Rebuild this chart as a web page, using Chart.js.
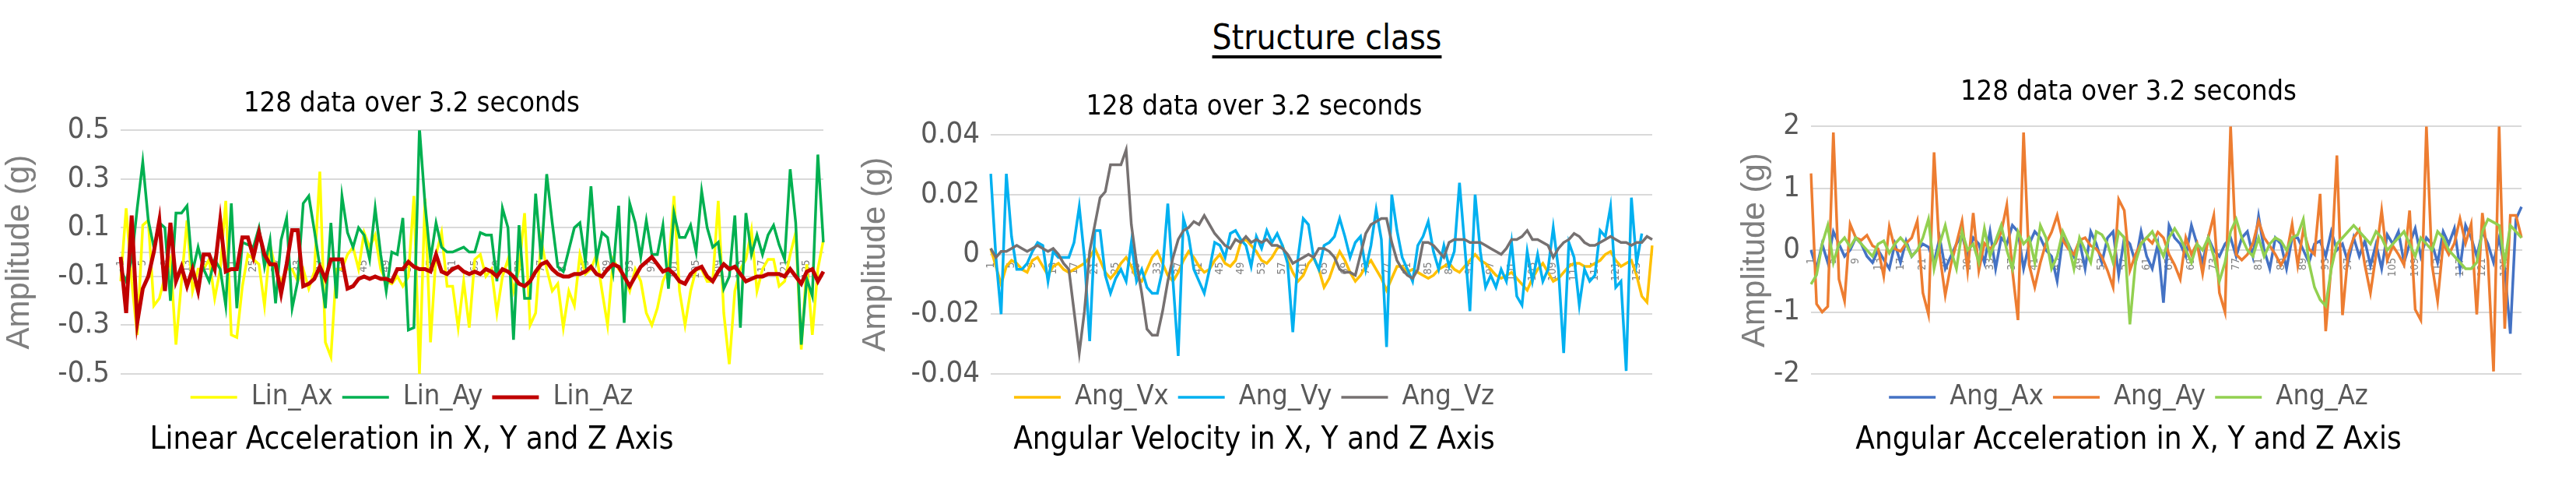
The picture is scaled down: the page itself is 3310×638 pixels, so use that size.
<!DOCTYPE html>
<html>
<head>
<meta charset="utf-8">
<script src="https://cdn.jsdelivr.net/npm/chart.js@4.4.1/dist/chart.umd.min.js"></script>
<style>
  html, body { margin: 0; padding: 0; background: #fff; width: 3310px; height: 638px; overflow: hidden; }
  .panel { position: absolute; top: 0; height: 638px; }
  #mainTitle {
    position: absolute; left: 1540px; width: 330px; top: 22px; text-align: center;
    font-family: 'Liberation Sans Narrow', 'DejaVu Sans Condensed', sans-serif; font-size: 44px;
    color: #000; text-decoration: underline; text-decoration-thickness: 4px; text-underline-offset: 8px;
  }
</style>
</head>
<body>
<div id="mainTitle">Structure class</div>
<div class="panel" style="left:0px;width:1210px"><canvas id="c1"></canvas></div>
<div class="panel" style="left:1100px;width:1210px"><canvas id="c2"></canvas></div>
<div class="panel" style="left:2230px;width:1112px"><canvas id="c3"></canvas></div>
<script>
// sample index labels 1..128
const SAMPLES = Array.from({ length: 128 }, (_, i) => String(i + 1));

// --- Linear acceleration (g) ---
const linAx = [-0.12,0.18,-0.12,-0.34,0.11,0.13,-0.22,-0.19,-0.1,-0.03,-0.38,-0.12,0.13,-0.16,-0.07,-0.07,-0.03,-0.19,-0.07,0.21,-0.34,-0.35,-0.14,-0.01,-0.03,-0.05,-0.22,0.03,-0.07,-0.12,-0.07,-0.07,-0.12,-0.07,-0.15,-0.08,0.33,-0.37,-0.43,-0.07,-0.07,-0.01,0.02,-0.07,0.08,0.02,0.07,-0.07,-0.12,-0.13,-0.1,-0.14,-0.1,0.23,-0.5,0.22,-0.37,-0.01,0.08,-0.14,-0.14,-0.31,-0.12,
  -0.31,-0.03,-0.01,-0.1,-0.07,-0.25,-0.1,-0.03,-0.16,-0.07,0.16,-0.3,-0.25,0.05,-0.07,-0.16,-0.13,-0.31,-0.16,-0.22,-0.01,-0.09,-0.07,-0.01,-0.16,-0.3,-0.03,-0.07,-0.1,-0.16,-0.07,-0.12,-0.25,-0.3,-0.23,-0.12,-0.07,0.23,-0.16,-0.3,-0.16,-0.07,-0.07,-0.12,-0.12,0.21,-0.25,-0.46,-0.16,-0.07,-0.03,0.09,-0.16,-0.07,-0.03,-0.03,-0.14,-0.12,-0.01,0.08,-0.4,-0.05,-0.34,-0.07,0.05];
const linAy = [-0.07,-0.12,-0.03,0.18,0.37,0.13,0.02,0.12,0.1,-0.2,0.16,0.16,0.19,-0.08,0.02,-0.07,-0.12,-0.03,-0.07,-0.22,0.2,-0.23,0.04,0.03,0.02,0.1,-0.06,0.05,-0.21,0.05,0.14,-0.23,-0.12,0.2,0.23,0.09,-0.06,-0.23,0.12,-0.19,0.23,0.08,0.02,0.1,0.07,-0.03,0.18,-0.01,-0.16,0,-0.01,0.14,-0.32,-0.31,0.51,0.2,-0.03,0.12,0.02,0,0,0.01,0.02,
  0,0,0.08,0.07,0.07,-0.12,0.18,0.1,-0.36,0.11,-0.19,-0.19,0.24,-0.03,0.32,0.12,-0.06,-0.08,0.01,0.1,0.12,-0.04,0.27,-0.03,0.08,0.06,-0.08,0.19,-0.29,0.2,0.12,-0.02,0.13,-0.01,-0.01,0.11,-0.15,0.16,0.06,0.06,0.11,0,0.25,0.1,0.02,0.04,-0.15,-0.1,0.15,-0.31,0.16,-0.01,0.07,-0.01,0.07,0.11,0.03,-0.03,0.34,0.12,-0.38,-0.11,-0.18,0.4,0.04];
const linAz = [-0.02,-0.25,0.15,-0.29,-0.15,-0.1,0.0,0.13,-0.16,0.12,-0.12,-0.06,-0.14,-0.07,-0.16,-0.01,-0.01,-0.07,0.13,-0.08,-0.07,-0.07,0.06,0.06,-0.02,0.08,-0.01,-0.05,-0.05,-0.17,-0.05,0.09,0.09,-0.14,-0.13,-0.11,-0.06,-0.11,-0.03,-0.03,-0.03,-0.15,-0.14,-0.11,-0.1,-0.11,-0.1,-0.11,-0.11,-0.12,-0.07,-0.07,-0.04,-0.06,-0.07,-0.07,-0.08,-0.01,-0.08,-0.09,-0.07,-0.06,-0.08,-0.09,
  -0.08,-0.09,-0.07,-0.08,-0.1,-0.07,-0.08,-0.1,-0.13,-0.14,-0.12,-0.08,-0.05,-0.04,-0.07,-0.09,-0.1,-0.1,-0.09,-0.09,-0.08,-0.06,-0.09,-0.1,-0.07,-0.05,-0.06,-0.1,-0.14,-0.1,-0.06,-0.04,-0.02,-0.05,-0.08,-0.07,-0.09,-0.12,-0.13,-0.09,-0.07,-0.06,-0.1,-0.12,-0.08,-0.05,-0.07,-0.06,-0.09,-0.12,-0.11,-0.1,-0.1,-0.09,-0.09,-0.09,-0.1,-0.07,-0.1,-0.13,-0.08,-0.07,-0.12,-0.08];

// --- Angular velocity ---
const angVx = [0.002,-0.004,-0.01,-0.004,-0.002,-0.003,-0.005,-0.006,-0.002,-0.001,-0.004,-0.007,-0.004,-0.003,-0.005,-0.006,-0.005,-0.004,-0.003,-0.001,0.002,-0.002,-0.006,-0.008,-0.006,-0.003,-0.001,-0.004,-0.008,-0.009,-0.005,-0.001,0.001,-0.003,-0.007,-0.009,-0.006,-0.002,0.001,-0.001,-0.004,-0.006,-0.005,-0.002,0,-0.003,-0.004,-0.002,0.004,0.005,0.003,0.001,-0.002,-0.003,-0.001,0.002,0.003,-0.002,-0.006,-0.009,-0.007,-0.003,-0.001,-0.005,-0.011,-0.008,-0.003,0.001,-0.002,-0.006,-0.009,-0.007,-0.004,-0.002,-0.005,-0.008,-0.012,-0.008,-0.004,-0.004,-0.006,-0.005,-0.006,-0.007,-0.008,-0.007,-0.005,-0.004,-0.003,-0.005,-0.006,-0.004,-0.002,0,-0.002,-0.003,-0.005,-0.007,-0.008,-0.007,-0.006,-0.008,-0.01,-0.012,-0.008,-0.005,-0.003,-0.006,-0.009,-0.008,-0.006,-0.004,-0.003,-0.003,-0.004,-0.004,-0.003,-0.002,0,0.001,-0.002,-0.004,-0.003,-0.002,-0.007,-0.014,-0.016,0.003];
const angVy = [0.027,-0.001,-0.02,0.027,0.006,-0.005,-0.005,-0.003,0.001,0.004,0.003,-0.009,0.001,-0.001,-0.001,-0.001,0.004,0.016,-0.001,-0.029,0.008,0.008,-0.007,-0.013,-0.008,-0.005,-0.009,0.004,-0.009,-0.005,-0.011,-0.013,-0.013,-0.005,0.017,-0.009,-0.034,0.012,0.006,-0.005,-0.009,-0.013,-0.005,0.004,0.003,-0.001,0.007,0.008,0.005,
  0.003,-0.004,0.006,0.002,
  0.008,0.004,0.007,0.003,-0.003,-0.026,-0.001,0.012,0.01,-0.001,-0.005,0.003,0.004,0.006,0.012,0.006,-0.001,0.004,0.006,-0.005,0.003,0.015,0.005,-0.031,0.02,0.008,-0.001,-0.005,-0.009,0.003,0.006,0.011,0.001,-0.005,0.003,-0.004,0.001,0.024,0.003,-0.019,0.02,0.001,-0.011,-0.007,-0.011,-0.005,-0.009,0.004,-0.014,-0.017,0.001,-0.009,0,-0.009,-0.005,0.009,-0.005,-0.033,0.004,-0.001,-0.017,-0.005,-0.009,-0.007,0.008,0.006,0.016,-0.011,-0.009,-0.039,0.019,-0.003,0.007];
const angVz = [0.002,-0.001,0.001,0.001,0.002,0.003,0.002,0.001,0.002,0.003,0.002,0.001,0.002,0,-0.003,-0.005,-0.019,-0.033,-0.019,0.001,0.01,0.019,0.021,0.03,0.03,0.03,0.035,0.01,-0.003,-0.013,-0.025,-0.027,-0.027,-0.019,-0.009,-0.001,0.005,0.008,0.009,0.011,0.01,0.013,0.01,0.007,0.005,0.003,0.002,0.005,0.004,
  0.006,0.004,0.005,0.004,
  0.005,0.003,0.003,0.002,0,-0.003,-0.002,-0.001,0,-0.001,0.002,0.002,0.001,-0.001,-0.005,-0.006,-0.006,-0.007,0,0.007,0.01,0.011,0.012,0.012,0.004,-0.002,-0.005,-0.007,-0.008,-0.005,0.004,0.004,0.003,0.001,-0.001,0.004,0.005,0.005,0.005,0.004,0.004,0.004,0.003,0.002,0.001,0,0.002,0.005,0.005,0.006,0.008,0.005,0.005,0.004,0.003,-0.001,0.002,0.004,0.005,0.007,0.006,0.004,0.003,0.003,0.004,0.005,0.006,0.005,0.004,0.004,0.003,0.004,0.004,0.006,0.005];

// --- Angular acceleration ---
const angAx = [0,-0.3,0.1,-0.2,0.3,0.1,-0.1,0,0.2,0.1,-0.1,-0.2,0,-0.15,-0.3,0.1,-0.2,0.15,-0.1,0,0.1,0.05,-0.2,0.2,-0.3,-0.1,0.1,0.25,-0.1,0.2,0.1,-0.2,0.3,-0.3,0.2,0.1,0.4,0.3,-0.3,0.1,0.3,0.2,0,-0.1,-0.5,0.2,0.1,-0.1,0.15,-0.3,0.3,0.1,-0.2,0.2,0.3,-0.4,0.2,0.1,-0.2,0.3,-0.1,-0.3,0.1,-0.85,0.4,0.2,0.1,-0.1,0.4,0.1,-0.2,0.2,0,-0.1,0.1,0.2,-0.1,0.2,0.3,-0.1,0.55,0,-0.3,0.2,0.1,-0.3,0.2,0.2,0,-0.2,0.1,0.15,-0.1,0.3,0,0.1,-0.2,0.2,-0.1,0.15,-0.25,0.1,-0.3,0.25,0.1,0.3,-0.2,0.1,0.35,-0.1,0.2,0.1,-0.2,0.3,0.1,0.35,-0.3,0.4,0.2,-0.1,0.3,0.1,-0.2,0.2,-0.3,-1.35,0.5,0.7];
const angAy = [1.24,-0.87,-1.0,-0.91,1.9,-0.47,-0.82,0.42,0.2,0.16,0.24,0.07,0.02,-0.42,0.38,0.02,-0.02,0.11,0.2,0.47,-0.69,-1.04,1.58,-0.07,-0.73,-0.24,0.11,0.47,-0.33,0.6,-0.33,0.11,0.02,0.11,0.29,0.73,-0.33,-1.13,1.9,-0.24,-0.6,-0.2,0.11,0.29,0.56,0.16,0.02,-0.07,0.16,0.2,0.07,0.02,-0.11,-0.33,-0.6,0.82,0.64,-0.33,-0.07,0.11,
  0.2,0.11,0.29,0.2,-0.07,-0.24,-0.47,0.2,-0.07,0.11,-0.38,0.2,0.56,-0.69,-1.0,2.0,-0.07,-0.16,-0.07,0.11,0.47,0.2,0.07,-0.07,-0.24,-0.07,0.42,-0.24,0.33,0.02,-0.07,0.91,-1.31,-0.24,1.53,-1.05,-0.07,0.2,0.33,-0.24,-0.69,-0.07,0.64,-0.16,0.07,-0.07,-0.24,0.64,-0.96,-1.13,2.0,-0.24,-0.82,0.11,-0.07,0.11,0.51,0.11,0.42,-1.04,0.6,-0.16,-1.96,2.0,-1.27,0.56,0.56,0.2];
const angAz = [-0.55,-0.4,0.1,0.4,-0.2,0.1,0.2,0.05,0.2,0.1,0,-0.1,0.1,0.15,-0.05,0.1,0.2,0.1,-0.1,0,0.2,0.5,-0.3,0.1,0.4,0,-0.3,0.3,0,0.1,-0.2,0.35,-0.1,0.15,0.4,0,-0.3,0.3,0.1,0.2,-0.2,0.4,0.2,-0.3,-0.1,0.3,0.1,-0.3,0.2,0,-0.2,0.3,0.25,0.1,-0.2,0.3,0.2,-1.2,-0.2,0.1,0.2,0.3,0.1,-0.1,0.2,0.35,0.2,0,-0.2,0.1,0,0.2,-0.1,-0.5,-0.2,0.3,0.5,0.2,0,-0.1,0.2,-0.1,0.1,0.2,0.15,0,0.2,0.25,0.5,-0.2,-0.6,-0.8,-0.9,-0.3,0.1,0.2,0.3,0.4,0.3,0.2,0.1,0.3,0.2,0,0.1,0.2,0.3,0.1,-0.1,0.2,0.1,0,0.3,0.2,0,-0.1,-0.2,-0.3,-0.3,-0.2,0.3,0.5,0.45,0.4,-0.2,0.4,0.3,0.2];

const TICKS_LIN = [-0.5, -0.3, -0.1, 0.1, 0.3, 0.5];
const TICKS_ANGV = [-0.04, -0.02, 0, 0.02, 0.04];
const TICKS_ANGA = [-2, -1, 0, 1, 2];

const NARROW = "'Liberation Sans Narrow', 'DejaVu Sans Condensed', sans-serif";

function makeChart(id, cfg) {
    const ctx = document.getElementById(id).getContext('2d');
    return new Chart(ctx, {
        type: 'line',
        data: {
            labels: SAMPLES,
            datasets: cfg.series.map(s => ({
                label: s.label,
                data: s.data,
                borderColor: s.color,
                backgroundColor: s.color,
                borderWidth: s.width || 3.5,
                pointRadius: 0,
                tension: 0,
                order: s.order
            }))
        },
        options: {
            responsive: true,
            maintainAspectRatio: false,
            animation: false,
            layout: { padding: { left: 0, right: cfg.padRight, top: 0, bottom: cfg.padBottom } },
            scales: {
                x: {
                    type: 'category',
                    position: { y: 0 },
                    grid: { display: false },
                    border: { color: '#d9d9d9', width: 2 },
                    ticks: {
                        autoSkip: false,
                        minRotation: 90,
                        maxRotation: 90,
                        padding: 2,
                        color: '#7f7f7f',
                        font: { family: NARROW, size: 14 },
                        callback: function(v, i) { return i % 4 === 0 ? this.getLabelForValue(v) : ''; }
                    }
                },
                y: {
                    min: cfg.min,
                    max: cfg.max,
                    afterBuildTicks: scale => { scale.ticks = cfg.ticks.map(v => ({ value: v })); },
                    afterFit: scale => { scale.width = cfg.yWidth; },
                    grid: { color: '#d9d9d9', lineWidth: 2, drawTicks: false },
                    border: { display: false },
                    ticks: {
                        color: '#595959',
                        padding: 14,
                        font: { family: NARROW, size: 38 },
                        callback: v => String(v)
                    },
                    title: {
                        display: true,
                        text: 'Amplitude (g)',
                        color: '#7f7f7f',
                        font: { family: "'Liberation Sans', Arial, sans-serif", size: 42 },
                        padding: 0
                    }
                }
            },
            plugins: {
                title: {
                    display: true,
                    text: '128 data over 3.2 seconds',
                    color: '#000',
                    font: { family: NARROW, size: 36, weight: 'normal' },
                    padding: { top: cfg.titleTop, bottom: cfg.titleBottom }
                },
                legend: {
                    position: 'bottom',
                    labels: {
                        color: '#595959',
                        font: { family: NARROW, size: 36 },
                        usePointStyle: true,
                        pointStyle: 'line',
                        pointStyleWidth: 60,
                        padding: 12,
                        sort: (a, b) => a.datasetIndex - b.datasetIndex
                    }
                },
                subtitle: {
                    display: true,
                    position: 'bottom',
                    text: cfg.bottomTitle,
                    color: '#000',
                    font: { family: NARROW, size: 40 },
                    padding: { top: 4, bottom: 0 }
                },
                tooltip: { enabled: false }
            }
        }
    });
}

makeChart('c1', {
    series: [
        { label: 'Lin_Ax', data: linAx, color: '#FFFF00', order: 3 },
        { label: 'Lin_Ay', data: linAy, color: '#00B050', order: 2 },
        { label: 'Lin_Az', data: linAz, color: '#C00000', order: 1, width: 5 }
    ],
    min: -0.5, max: 0.5, ticks: TICKS_LIN,
    yWidth: 155, padRight: 152, padBottom: 48, titleTop: 112, titleBottom: 12,
    bottomTitle: 'Linear Acceleration in X, Y and Z Axis'
});

makeChart('c2', {
    series: [
        { label: 'Ang_Vx', data: angVx, color: '#FFC000', order: 3 },
        { label: 'Ang_Vy', data: angVy, color: '#00B0F0', order: 2 },
        { label: 'Ang_Vz', data: angVz, color: '#767171', order: 1 }
    ],
    min: -0.04, max: 0.04, ticks: TICKS_ANGV,
    yWidth: 173, padRight: 187, padBottom: 48, titleTop: 116, titleBottom: 14,
    bottomTitle: 'Angular Velocity in X, Y and Z Axis'
});

makeChart('c3', {
    series: [
        { label: 'Ang_Ax', data: angAx, color: '#4472C4', order: 3 },
        { label: 'Ang_Ay', data: angAy, color: '#ED7D31', order: 2 },
        { label: 'Ang_Az', data: angAz, color: '#92D050', order: 1 }
    ],
    min: -2, max: 2, ticks: TICKS_ANGA,
    yWidth: 97, padRight: 102, padBottom: 48, titleTop: 97, titleBottom: 22,
    bottomTitle: 'Angular Acceleration in X, Y and Z Axis'
});
</script>
</body>
</html>
